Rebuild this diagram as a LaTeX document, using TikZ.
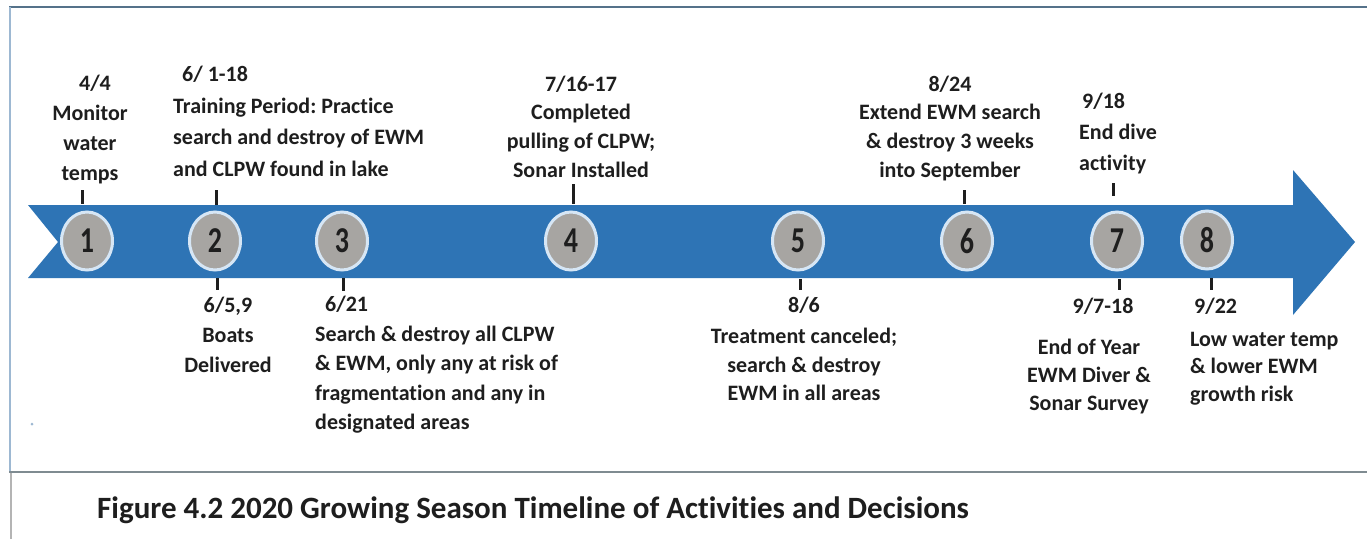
\documentclass[tikz,border=0pt]{standalone}
\usepackage{fontspec}
\setmainfont{Carlito}[Ligatures=NoCommon]
\usetikzlibrary{shapes.geometric}
\frenchspacing
\definecolor{barblue}{HTML}{2E74B5}
\definecolor{dotgray}{HTML}{A7A5A2}
\definecolor{ringblue}{HTML}{D6E6F5}
\definecolor{txt}{HTML}{1E1E1E}
\definecolor{frametop}{HTML}{55728A}
\definecolor{frameleft}{HTML}{9DB8D2}
\definecolor{framebot}{HTML}{7F8B91}
\definecolor{pagegray}{HTML}{B4B4B4}
\tikzset{
  evtext/.style={font=\fontsize{22}{30}\selectfont\bfseries, inner sep=0pt, text=txt},
  marker/.style={ellipse, minimum width=51pt, minimum height=58pt, inner sep=0pt,
    draw=ringblue, line width=3pt, fill=dotgray, text=txt},
  tickline/.style={line width=3pt, txt},
}
\newcommand{\num}[1]{\scalebox{1}[1.3]{\fontsize{28}{28}\selectfont\bfseries #1}}
\begin{document}
\begin{tikzpicture}[x=1pt,y=-1pt]
\useasboundingbox (0,0) rectangle (1367,539);
\fill[white] (0,0) rectangle (1367,539);

% frame around the timeline panel
\draw[frametop, line width=2pt] (9,7) -- (1367,7);
\draw[frameleft, line width=1.5pt] (10,7) -- (10,472);
\draw[framebot, line width=2pt] (9,472) -- (1367,472);
\draw[pagegray, line width=2.5pt] (11,473) -- (11,539);
\fill[frameleft] (32,424) circle (1.5);

% timeline arrow
\fill[barblue] (28,205) -- (1293,205) -- (1293,170) -- (1355,242) -- (1293,315)
  -- (1293,278) -- (28,278) -- (58,242) -- cycle;

% event markers
\node[marker] (c1) at (87,241) {\num{1}};
\node[marker] (c2) at (215,241) {\num{2}};
\node[marker] (c3) at (342,241) {\num{3}};
\node[marker] (c4) at (571,241) {\num{4}};
\node[marker] (c5) at (798,241) {\num{5}};
\node[marker] (c6) at (967,241) {\num{6}};
\node[marker] (c7) at (1117,241) {\num{7}};
\node[marker] (c8) at (1207,240) {\num{8}};

% ticks
\draw[tickline] (82,190) -- (82,204);
\draw[tickline] (216,190) -- (216,205);
\draw[tickline] (573,184) -- (573,204);
\draw[tickline] (964,190) -- (964,204);
\draw[tickline] (1113,183) -- (1113,196);
\draw[tickline] (217,278) -- (217,290);
\draw[tickline] (343,278) -- (343,291);
\draw[tickline] (800,279) -- (800,290);
\draw[tickline] (1119,279) -- (1119,290);
\draw[tickline] (1211,278) -- (1211,290);

% labels above the arrow
\node[evtext, align=center, anchor=north] (t1) at (90,69)
  {\strut\hspace*{10pt}4/4\\Monitor\\water\\temps};
\node[evtext, align=left, anchor=north west, font=\fontsize{22}{31.7}\selectfont\bfseries] (t2) at (173,59)
  {\strut\hspace*{9pt}6/ 1-18\\Training Period: Practice\\search and destroy of EWM\\and CLPW found in lake};
\node[evtext, align=center, anchor=north, font=\fontsize{22}{28.7}\selectfont\bfseries] (t4) at (581,71)
  {\strut 7/16-17\\Completed\\pulling of CLPW;\\Sonar Installed};
\node[evtext, align=center, anchor=north, font=\fontsize{22}{28.7}\selectfont\bfseries] (t6) at (950,71)
  {\strut 8/24\\Extend EWM search\\\& destroy 3 weeks\\into September};
\node[evtext, align=left, anchor=north west, font=\fontsize{22}{31}\selectfont\bfseries] (t7) at (1079,87)
  {\strut\hspace*{3pt}9/18\\End dive\\activity};

% labels below the arrow
\node[evtext, align=center, anchor=north] (b2) at (228,291)
  {\strut 6/5,9\\Boats\\Delivered};
\node[evtext, align=left, anchor=north west, font=\fontsize{22}{29.5}\selectfont\bfseries] (b3) at (315,291)
  {\strut\hspace*{10pt}6/21\\Search \& destroy all CLPW\\\& EWM, only any at risk of\\fragmentation and any in\\designated areas};
\node[evtext, align=center, anchor=north, font=\fontsize{22}{28.5}\selectfont\bfseries] (b5) at (804,292)
  {\strut 8/6\\[3pt]Treatment canceled;\\search \& destroy\\EWM in all areas};
\node[evtext, anchor=north] (b7d) at (1103,292) {\strut 9/7-18};
\node[evtext, align=center, anchor=north, font=\fontsize{22}{28}\selectfont\bfseries] (b7) at (1089,335)
  {\strut End of Year\\EWM Diver \&\\Sonar Survey};
\node[evtext, anchor=north west] (b8d) at (1194,292) {\strut 9/22};
\node[evtext, align=left, anchor=north west, font=\fontsize{22}{27.5}\selectfont\bfseries] (b8) at (1190,327)
  {\strut Low water temp\\\& lower EWM\\growth risk};

% caption
\node[font=\fontsize{31}{36}\selectfont\bfseries, text=txt, inner sep=0pt, anchor=base west] (cap) at (97,518)
  {Figure 4.2 2020 Growing Season Timeline of Activities and Decisions};
\end{tikzpicture}
\end{document}
